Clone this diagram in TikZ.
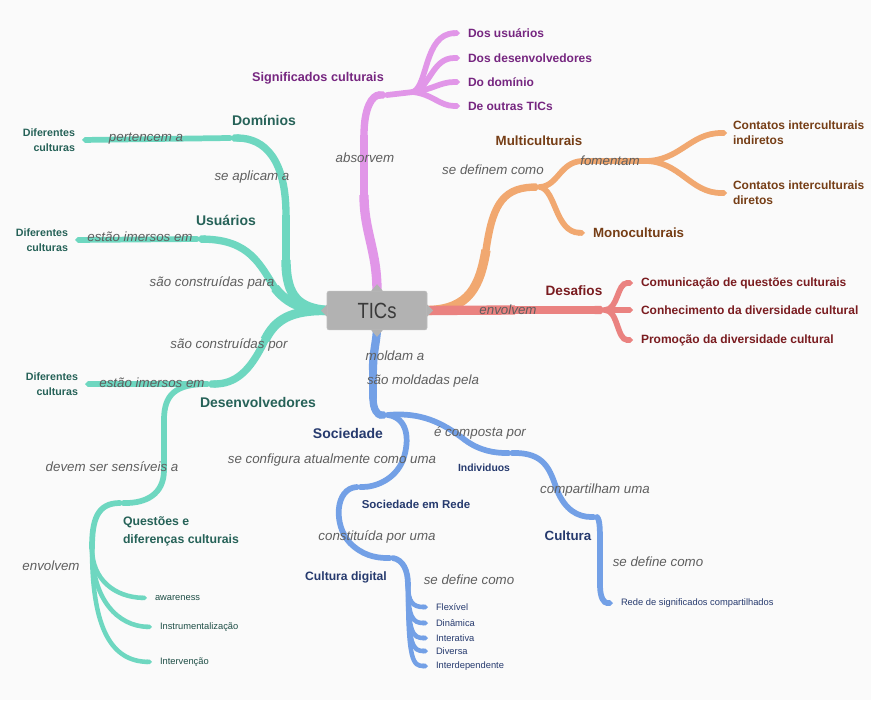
\documentclass[tikz,border=0pt]{standalone}
\usepackage{graphicx}
\usepackage{fontspec}
\setmainfont{Liberation Sans}
\usetikzlibrary{arrows.meta}
\pgfdeclarelayer{back}
\pgfdeclarelayer{lines}
\pgfsetlayers{back,lines,main}

\definecolor{bgc}{RGB}{250,250,250}
\definecolor{tealL}{RGB}{110,215,192}
\definecolor{tealT}{RGB}{38,98,88}
\definecolor{purL}{RGB}{225,150,232}
\definecolor{purT}{RGB}{118,38,128}
\definecolor{oraL}{RGB}{241,168,112}
\definecolor{oraT}{RGB}{118,62,22}
\definecolor{redL}{RGB}{234,130,128}
\definecolor{redT}{RGB}{122,28,32}
\definecolor{bluL}{RGB}{115,160,230}
\definecolor{bluT}{RGB}{38,58,110}
\definecolor{lblgray}{RGB}{95,95,95}
\definecolor{ticsF}{RGB}{178,178,178}
\definecolor{ticsT}{RGB}{58,58,58}

\newcommand\fsz[2]{\fontsize{#1}{#2}\selectfont}

\begin{document}
\begin{tikzpicture}[x=0.75pt,y=-0.75pt,
  every node/.style={inner sep=0pt, outer sep=0pt},
  elbl/.style={font=\fsz{10}{12}\itshape, text=lblgray},
  hub/.style={font=\fsz{10.5}{12}\bfseries},
  sub/.style={font=\fsz{9.2}{13.5}\bfseries, align=left},
  dcult/.style={font=\fsz{8}{11.25}\bfseries, align=right, anchor=east, inner xsep=5.25pt, text=tealT},
  leafsm/.style={font=\fsz{7}{9}, anchor=west, inner xsep=6pt},
  leafbig/.style={font=\fsz{9}{11.25}\bfseries, anchor=west, inner xsep=6pt, align=left},
  % branch widths: thick near the centre, thinner towards the leaves
  w1/.style={line width=7pt, line cap=butt},
  w2/.style={line width=6.2pt, line cap=butt},
  wmain/.style={line width=5.5pt, line cap=round},
  wchild/.style={line width=4.3pt, line cap=round},
  wleaf/.style={line width=3.4pt, line cap=round},
  tip/.style={-{Triangle Cap}},
  tics/.style={fill=ticsF, draw=ticsF!85!white, rounded corners=1.5pt,
    minimum width=75pt, minimum height=29pt, text=ticsT, font=\fsz{16.5}{18}}
]
\useasboundingbox (0,0) rectangle (871,700);
\begin{pgfonlayer}{back}
  \fill[bgc] (0,0) rectangle (871,700);
\end{pgfonlayer}

% central topic
\node[tics] (tics) at (377,310.5) {\scalebox{0.84}[1]{TICs}};
\fill[ticsF] (tics.west) ++(-6,0) -- ++(6,-6) -- ++(0,12) -- cycle;
\fill[ticsF] (tics.east) ++(6,0) -- ++(-6,-6) -- ++(0,12) -- cycle;
\fill[ticsF] (tics.north) ++(0,-7) -- ++(-6,7) -- ++(12,0) -- cycle;
\fill[ticsF] (tics.south) ++(0,7) -- ++(-6,-7) -- ++(12,0) -- cycle;

% ---------- branch points ----------
\coordinate (jdom) at (230,138);
\coordinate (jusu) at (197,239);
\coordinate (jdes) at (207,384);
\coordinate (jques) at (120,503);
\coordinate (jqt) at (92,548);
\coordinate (jsig) at (387,95);
\coordinate (jsf) at (413,92);
\coordinate (jmul) at (540,187);
\coordinate (jfom) at (645,161);
\coordinate (jdesaf) at (605,310);
\coordinate (jsoc) at (388,415);
\coordinate (jind) at (512,453);
\coordinate (jcul) at (597,517);
\coordinate (jsr) at (357,487);
\coordinate (jcd) at (393,558);
\coordinate (jcdt) at (408,585);
% bends along the main branches
\coordinate (bd1) at (286,260);
\coordinate (bd2) at (286,215);
\coordinate (bu1) at (275,288);
\coordinate (bs1) at (265,340);
\coordinate (bp1) at (364,195);
\coordinate (bp2) at (364,135);
\coordinate (bo1) at (486,250);
\coordinate (br1) at (515,310);
\coordinate (bb1) at (373,370);
\coordinate (bb2) at (373,398);

% ---------- teal: Domínios / Usuários / Desenvolvedores ----------
\node[hub, text=tealT] (dom) at (264,120) {Domínios};
\node[hub, text=tealT] (usu) at (226,220) {Usuários};
\node[hub, text=tealT] (des) at (258,402) {Desenvolvedores};
\node[sub, text=tealT, anchor=west] (ques) at (123,531) {Questões e\\diferenças culturais};
\node[dcult] (dc1) at (82,140) {Diferentes\\culturas};
\node[dcult] (dc2) at (75,240) {Diferentes\\culturas};
\node[dcult] (dc3) at (85,384) {Diferentes\\culturas};
\node[leafsm, text=tealT!80!black] (aw) at (147,598) {awareness};
\node[leafsm, text=tealT!80!black] (ins) at (152,627) {Instrumentalização};
\node[leafsm, text=tealT!80!black] (intv) at (152,662) {Intervenção};

% ---------- purple: Significados culturais ----------
\node[hub, font=\fsz{9.5}{12}\bfseries, text=purT] (sig) at (318,78) {Significados culturais};
\node[leafbig, text=purT] (du) at (460,33) {Dos usuários};
\node[leafbig, text=purT] (dd) at (460,58) {Dos desenvolvedores};
\node[leafbig, text=purT] (ddom) at (460,82) {Do domínio};
\node[leafbig, text=purT] (dot) at (460,106) {De outras TICs};

% ---------- orange: Multiculturais ----------
\node[hub, font=\fsz{10}{12}\bfseries, text=oraT] (mul) at (539,141) {Multiculturais};
\node[leafbig, font=\fsz{10}{12}\bfseries, text=oraT] (mono) at (585,233) {Monoculturais};
\node[leafbig, inner xsep=4.5pt, text=oraT] (ci) at (727,133) {Contatos interculturais\\indiretos};
\node[leafbig, inner xsep=4.5pt, text=oraT] (cdir) at (727,193) {Contatos interculturais\\diretos};

% ---------- red: Desafios ----------
\node[hub, font=\fsz{10.2}{12}\bfseries, text=redT] (desaf) at (574,291) {Desafios};
\node[leafbig, text=redT] (com) at (633,283) {Comunicação de questões culturais};
\node[leafbig, text=redT] (con) at (633,310) {Conhecimento da diversidade cultural};
\node[leafbig, text=redT] (pro) at (633,340) {Promoção da diversidade cultural};

% ---------- blue: Sociedade ----------
\node[hub, text=bluT] (soc) at (348,433) {Sociedade};
\node[hub, font=\fsz{7.8}{10}\bfseries, text=bluT] (ind) at (484,468) {Individuos};
\node[hub, font=\fsz{10}{12}\bfseries, text=bluT] (cul) at (568,536) {Cultura};
\node[hub, font=\fsz{8.6}{10}\bfseries, text=bluT] (sr) at (416,504) {Sociedade em Rede};
\node[hub, font=\fsz{9.1}{11}\bfseries, text=bluT] (cdl) at (346,577) {Cultura digital};
\node[leafsm, text=bluT] (rede) at (613,603) {Rede de significados compartilhados};
\node[leafsm, text=bluT] (flex) at (428,607) {Flexível};
\node[leafsm, text=bluT] (din) at (428,623) {Dinâmica};
\node[leafsm, text=bluT] (intr) at (428,638) {Interativa};
\node[leafsm, text=bluT] (dvs) at (428,651) {Diversa};
\node[leafsm, text=bluT] (intd) at (428,666) {Interdependente};

% ---------- connectors ----------
\begin{pgfonlayer}{lines}
  % teal
  \draw[w1, tealL] (tics.west) .. controls (300,308) and (286,298) .. (bd1);
  \draw[w2, tealL] (bd1) -- (bd2);
  \draw[wmain, tip, tealL] (bd2) .. controls (286,160) and (265,138) .. (jdom);
  \draw[wchild, tip, tealL] (jdom) -- (dc1.east);
  \draw[w1, tealL] (tics.west) .. controls (305,310) and (288,305) .. (bu1);
  \draw[wmain, tip, tealL] (bu1) .. controls (260,265) and (250,240) .. (jusu);
  \draw[wchild, tip, tealL] (jusu) -- (dc2.east);
  \draw[w1, tealL] (tics.west) .. controls (290,310) and (275,320) .. (bs1);
  \draw[wmain, tip, tealL] (bs1) .. controls (250,372) and (235,384) .. (jdes);
  \draw[wchild, tip, tealL] (jdes) -- (dc3.east);
  \draw[wchild, tip, tealL] (jdes) .. controls (175,384) and (164,395) .. (164,420)
       -- (164,470) .. controls (164,495) and (145,503) .. (jques);
  \draw[wchild, tealL] (jques) .. controls (97,503) and (92,520) .. (jqt);
  \draw[wleaf, tip, tealL] (jqt) .. controls (92,580) and (115,597) .. (aw.west);
  \draw[wleaf, tip, tealL] (jqt) .. controls (92,600) and (118,626) .. (ins.west);
  \draw[wleaf, tip, tealL] (jqt) .. controls (92,630) and (112,661) .. (intv.west);

  % purple
  \draw[w1, purL] (tics.north) .. controls (377,250) and (364,232) .. (bp1);
  \draw[w2, purL] (bp1) -- (bp2);
  \draw[wmain, tip, purL] (bp2) .. controls (364,108) and (372,95) .. (jsig);
  \draw[wchild, purL] (jsig) -- (jsf);
  \draw[wchild, tip, purL] (jsf) .. controls (428,86) and (424,34) .. (du.west);
  \draw[wchild, tip, purL] (jsf) .. controls (430,88) and (432,58) .. (dd.west);
  \draw[wchild, tip, purL] (jsf) .. controls (432,90) and (440,82) .. (ddom.west);
  \draw[wchild, tip, purL] (jsf) .. controls (432,94) and (440,106) .. (dot.west);

  % orange
  \draw[w1, oraL] (tics.east) .. controls (470,310) and (480,285) .. (bo1);
  \draw[wmain, tip, oraL] (bo1) .. controls (492,210) and (500,188) .. (jmul);
  \draw[wchild, oraL] (jmul) .. controls (558,186) and (560,162) .. (582,161) -- (jfom);
  \draw[wchild, tip, oraL] (jfom) .. controls (680,161) and (690,133) .. (ci.west);
  \draw[wchild, tip, oraL] (jfom) .. controls (680,161) and (690,193) .. (cdir.west);
  \draw[wchild, tip, oraL] (jmul) .. controls (556,190) and (555,232) .. (mono.west);

  % red
  \draw[w1, redL] (tics.east) -- (br1);
  \draw[w2, tip, redL] (br1) -- (jdesaf);
  \draw[wchild, tip, redL] (jdesaf) .. controls (618,310) and (617,283) .. (com.west);
  \draw[wchild, tip, redL] (jdesaf) -- (con.west);
  \draw[wchild, tip, redL] (jdesaf) .. controls (618,310) and (617,340) .. (pro.west);

  % blue
  \draw[w2, bluL] (tics.south) .. controls (376,345) and (373,352) .. (bb1);
  \draw[wmain, bluL] (bb1) -- (bb2);
  \draw[wmain, tip, bluL] (bb2) .. controls (373,410) and (378,415) .. (jsoc);
  \draw[wchild, tip, bluL] (jsoc) .. controls (420,412) and (442,422) .. (465,440)
       .. controls (480,451) and (495,453) .. (jind);
  \draw[wchild, tip, bluL] (jind) .. controls (545,452) and (550,470) .. (557,490)
       .. controls (565,510) and (578,517) .. (jcul);
  \draw[wchild, tip, bluL] (jcul) .. controls (600,520) and (600,530) .. (600,545)
       -- (600,585) .. controls (600,598) and (604,603) .. (rede.west);
  \draw[wchild, tip, bluL] (jsoc) .. controls (408,418) and (410,440) .. (403,460)
       .. controls (395,480) and (375,487) .. (jsr);
  \draw[wchild, tip, bluL] (jsr) .. controls (335,488) and (333,525) .. (350,543)
       .. controls (362,555) and (375,558) .. (jcd);
  \draw[wchild, bluL] (jcd) .. controls (403,560) and (408,570) .. (jcdt);
  \draw[wleaf, tip, bluL] (jcdt) .. controls (408,602) and (413,607) .. (flex.west);
  \draw[wleaf, tip, bluL] (jcdt) .. controls (408,618) and (413,623) .. (din.west);
  \draw[wleaf, tip, bluL] (jcdt) .. controls (408,633) and (413,638) .. (intr.west);
  \draw[wleaf, tip, bluL] (jcdt) .. controls (408,646) and (413,651) .. (dvs.west);
  \draw[wleaf, tip, bluL] (jcdt) .. controls (408,661) and (413,666) .. (intd.west);
\end{pgfonlayer}

% ---------- connector labels ----------
\node[elbl] (l1) at (252,177) {se aplicam a};
\node[elbl] (l2) at (212,283) {são construídas para};
\node[elbl] (l3) at (229,345) {são construídas por};
\node[elbl] (l4) at (146,139) {pertencem a};
\node[elbl] (l5) at (140,237) {estão imersos em};
\node[elbl] (l6) at (152,383) {estão imersos em};
\node[elbl] (l7) at (112,467) {devem ser sensíveis a};
\node[elbl] (l8) at (51,566) {envolvem};
\node[elbl] (l9) at (365,158) {absorvem};
\node[elbl] (l10) at (493,170) {se definem como};
\node[elbl] (l11) at (610,161) {fomentam};
\node[elbl] (l12) at (508,310) {envolvem};
\node[elbl] (l13) at (395,356) {moldam a};
\node[elbl] (l14) at (423,381) {são moldadas pela};
\node[elbl] (l15) at (480,433) {é composta por};
\node[elbl] (l16) at (332,460) {se configura atualmente como uma};
\node[elbl] (l17) at (595,490) {compartilham uma};
\node[elbl] (l18) at (658,562) {se define como};
\node[elbl] (l19) at (377,537) {constituída por uma};
\node[elbl] (l20) at (469,580) {se define como};
\end{tikzpicture}
\end{document}
